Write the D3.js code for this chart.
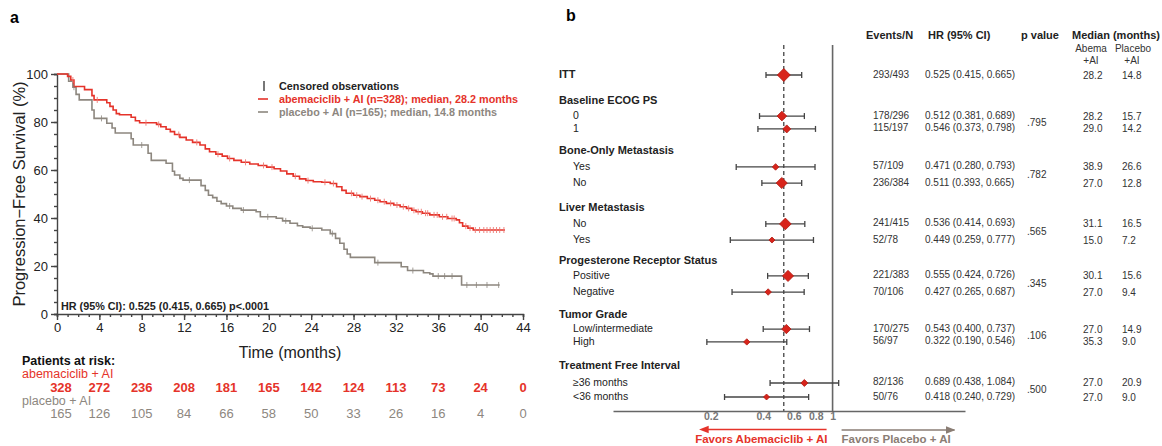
<!DOCTYPE html>
<html><head><meta charset="utf-8">
<script src="https://cdn.jsdelivr.net/npm/d3@7"></script>
<style>
body{margin:0;background:#fff}
svg{display:block;font-family:"Liberation Sans",Arial,Helvetica,sans-serif}
</style>
</head><body>
<svg id="chart" width="1162" height="446"></svg>
<script>
// ---------------- DATA: Kaplan-Meier (panel a) ----------------
const kmTimeTicks = [0,4,8,12,16,20,24,28,32,36,40,44];
const kmSurvTicks = [0,20,40,60,80,100];
const riskTimes = [0,4,8,12,16,20,24,28,32,36,40,44];
const riskAbema = [328,272,236,208,181,165,142,124,113,73,24,0];
const riskPlacebo = [165,126,105,84,66,58,50,33,26,16,4,0];

// step times and survival (%) after each step
const abemaTimes = [0,1.0,1.3,1.6,2.6,3.3,3.5,4.7,5.0,5.3,5.6,5.9,7.0,7.4,7.8,9.4,9.8,10.3,10.7,11.1,11.6,12.2,12.8,13.5,14.0,14.4,15.0,15.6,16.1,16.7,17.4,18.2,19.0,19.8,20.5,21.1,21.7,22.3,22.9,23.5,24.2,25.0,25.8,26.4,26.9,27.3,28.0,28.6,29.3,30.0,30.5,31.1,31.8,32.4,33.0,33.5,33.9,34.5,35.2,36.1,36.9,37.7,38.0,38.3,38.8,39.3];
const abemaSurv  = [100,99,97.5,94.8,93.5,91,89.2,88,86.5,85,83.5,83,82,80.5,79.7,79,78,77,76,74.8,73.6,72.5,71.5,70.4,68.8,67.6,66.6,65.8,64.8,64.0,63.2,62.5,61.9,61.2,60.5,59.6,58.4,57.4,56.3,55.6,55.1,54.9,54.4,53,51.5,50.3,49.5,48.9,48.1,47.4,46.8,46.1,45.4,44.7,44,43.2,42.6,42,41.3,40.5,39.8,39.2,38,36.6,35.8,35];
const abemaEnd = 42.3;
const abemaCensor = [1.5,3.8,8.4,9.6,11.5,13.2,15.2,16.3,17.8,19.5,20.3,22.5,23.7,25.3,26.1,27.8,28.3,28.8,29.6,30.3,30.9,31.5,32.1,32.7,33.2,33.7,34.1,34.4,34.8,35.0,35.6,35.9,36.4,36.8,37.3,37.5,38.6,39.0,39.5,39.9,40.3,40.6,40.9,41.2,41.5,41.8,42.2];

const placeboTimes = [0,1.1,1.5,1.8,2.1,3.3,3.5,4.7,5.2,5.5,7.0,7.2,8.6,8.9,10.3,10.9,11.1,11.6,11.9,13.6,14.0,14.3,14.7,15.1,15.5,16.0,16.6,17.4,18.8,19.2,20.7,21.3,22.0,22.7,23.2,23.9,25.0,25.8,26.3,26.7,27.1,27.4,27.7,30.0,32.5,33.1,34.6,35.2,35.5,38.2];
const placeboSurv  = [100,97,94.5,91.5,89.2,85,81.5,79.5,77.5,75.4,73,70.4,67,64,62.8,59.5,57.9,56.5,55.8,53.5,51.5,49.5,48.5,47,46,45,44,43.3,42.6,40.5,39.9,38.8,37.8,36.8,36.2,35.7,35,33.5,31.5,29.5,27,25,23.6,21.4,19.7,18.1,17.2,16.7,15.8,12.1];
const placeboEnd = 41.8;
const placeboCensor = [1.6,4.2,8.0,12.5,16.3,17.6,19.9,21.6,24.1,26.0,30.3,33.6,36.0,36.6,37.3,38.7,39.6,40.6,41.7];

const legendCensor = "Censored observations";
const legendAbema = "abemaciclib + AI (n=328); median, 28.2 months";
const legendPlacebo = "placebo + AI (n=165); median, 14.8 months";
const hrText = "HR (95% CI): 0.525 (0.415, 0.665) p<.0001";

// ---------------- DATA: Forest plot (panel b) ----------------
const rowLabels = ["ITT","Baseline ECOG PS","0","1","Bone-Only Metastasis","Yes","No","Liver Metastasis","No","Yes","Progesterone Receptor Status","Positive","Negative","Tumor Grade","Low/intermediate","High","Treatment Free Interval","≥36 months","<36 months"];
const rowIsHeader = [1,1,0,0,1,0,0,1,0,0,1,0,0,1,0,0,1,0,0];
const estRows = [0,2,3,5,6,8,9,11,12,14,15,17,18];   // rows carrying an estimate
const hrValues = [0.525,0.512,0.546,0.471,0.511,0.536,0.449,0.555,0.427,0.543,0.322,0.689,0.418];
const hrLower  = [0.415,0.381,0.373,0.280,0.393,0.414,0.259,0.424,0.265,0.400,0.190,0.438,0.240];
const hrUpper  = [0.665,0.689,0.798,0.793,0.665,0.693,0.777,0.726,0.687,0.737,0.546,1.084,0.729];
const eventsN  = ["293/493","178/296","115/197","57/109","236/384","241/415","52/78","221/383","70/106","170/275","56/97","82/136","50/76"];
const groupN   = [493,296,197,109,384,415,78,383,106,275,97,136,76];
const medAbema = ["28.2","28.2","29.0","38.9","27.0","31.1","15.0","30.1","27.0","27.0","35.3","27.0","27.0"];
const medPlacebo = ["14.8","15.7","14.2","26.6","12.8","16.5","7.2","15.6","9.4","14.9","9.0","20.9","9.0"];
const pValues = [".795",".782",".565",".345",".106",".500"];
const pRows = [[2,3],[5,6],[8,9],[11,12],[14,15],[17,18]];
const forestTicks = [0.2,0.4,0.6,0.8,1];
const overallHR = 0.525;

// ---------------- LAYOUT ----------------
const RED = "#e5332a", GRAY = "#8d877f", DARK = "#222";
const rowSlot = [0,1.61,2.55,3.35,4.72,5.71,6.71,8.26,9.25,10.25,11.55,12.48,13.48,14.91,15.78,16.58,18.07,19.13,20];

const svg = d3.select("#chart");

// ======== Panel a ========
const x = d3.scaleLinear().domain([0,44]).range([57,523]);
const y = d3.scaleLinear().domain([0,100]).range([314,74]);

svg.append("text").attr("x",10).attr("y",23).attr("font-size",16).attr("font-weight","bold").text("a");

const yAxisMinor = d3.axisLeft(y).tickValues(d3.range(0,101,5)).tickSize(3).tickFormat("");
const yAxis = d3.axisLeft(y).tickValues(kmSurvTicks).tickSize(6).tickPadding(3);
const xAxisMinor = d3.axisBottom(x).tickValues(d3.range(0,45,1)).tickSize(3).tickFormat("");
const xAxis = d3.axisBottom(x).tickValues(kmTimeTicks).tickSize(6).tickPadding(3);

function styleAxis(g){
  g.selectAll("path,line").attr("stroke","#444").attr("stroke-width",1.4);
  g.selectAll("text").attr("font-size",13).attr("fill",DARK).attr("font-family","Liberation Sans, Arial, sans-serif");
}
svg.append("g").attr("transform",`translate(${x(0)},0)`).call(yAxisMinor).call(styleAxis);
svg.append("g").attr("transform",`translate(${x(0)},0)`).call(yAxis).call(styleAxis).select(".domain").remove();
svg.append("g").attr("transform",`translate(0,${y(0)})`).call(xAxisMinor).call(styleAxis);
svg.append("g").attr("transform",`translate(0,${y(0)})`).call(xAxis).call(styleAxis).select(".domain").remove();

svg.append("text").attr("transform",`translate(19,${(y(0)+y(100))/2}) rotate(-90)`)
  .attr("text-anchor","middle").attr("dy","0.35em").attr("font-size",16.5).attr("fill",DARK)
  .text("Progression\u2212Free Survival (%)");
svg.append("text").attr("x",(x(0)+x(44))/2).attr("y",352).attr("dy","0.35em")
  .attr("text-anchor","middle").attr("font-size",16).attr("fill",DARK).text("Time (months)");

function stepData(times, surv, end){
  const d = times.map((t,i)=>[t,surv[i]]);
  d.push([end, surv[surv.length-1]]);
  return d;
}
function survAt(times, surv, t){
  let s = surv[0];
  for(let i=0;i<times.length;i++){ if(times[i]<=t) s = surv[i]; }
  return s;
}
const line = d3.line().x(d=>x(d[0])).y(d=>y(d[1])).curve(d3.curveStepAfter);
svg.append("path").datum(stepData(placeboTimes,placeboSurv,placeboEnd))
  .attr("d",line).attr("fill","none").attr("stroke",GRAY).attr("stroke-width",1.6);
svg.append("path").datum(stepData(abemaTimes,abemaSurv,abemaEnd))
  .attr("d",line).attr("fill","none").attr("stroke",RED).attr("stroke-width",1.6);

svg.append("g").selectAll("line").data(placeboCensor).join("line")
  .attr("x1",d=>x(d)).attr("x2",d=>x(d))
  .attr("y1",d=>y(survAt(placeboTimes,placeboSurv,d))-3)
  .attr("y2",d=>y(survAt(placeboTimes,placeboSurv,d))+3)
  .attr("stroke",GRAY).attr("stroke-width",1).attr("opacity",0.8);
svg.append("g").selectAll("line").data(abemaCensor).join("line")
  .attr("x1",d=>x(d)).attr("x2",d=>x(d))
  .attr("y1",d=>y(survAt(abemaTimes,abemaSurv,d))-3)
  .attr("y2",d=>y(survAt(abemaTimes,abemaSurv,d))+3)
  .attr("stroke","#ee7a74").attr("stroke-width",1).attr("opacity",0.9);

// legend
const lg = svg.append("g").attr("font-size",10.8).attr("font-weight","bold");
lg.append("line").attr("x1",264).attr("x2",264).attr("y1",81).attr("y2",91).attr("stroke","#555").attr("stroke-width",1.6);
lg.append("text").attr("x",279).attr("y",86).attr("dy","0.35em").attr("fill",DARK).text(legendCensor);
lg.append("line").attr("x1",258).attr("x2",268).attr("y1",99).attr("y2",99).attr("stroke",RED).attr("stroke-width",1.6);
lg.append("text").attr("x",279).attr("y",99).attr("dy","0.35em").attr("fill",RED).text(legendAbema);
lg.append("line").attr("x1",258).attr("x2",268).attr("y1",112).attr("y2",112).attr("stroke",GRAY).attr("stroke-width",1.6);
lg.append("text").attr("x",279).attr("y",112).attr("dy","0.35em").attr("fill",GRAY).text(legendPlacebo);

svg.append("text").attr("x",61).attr("y",306).attr("dy","0.35em").attr("font-size",10.8)
  .attr("font-weight","bold").attr("fill",DARK).text(hrText);

// patients at risk
svg.append("text").attr("x",22).attr("y",361).attr("dy","0.35em").attr("font-size",12.5).attr("font-weight","bold").attr("fill","#111").text("Patients at risk:");
svg.append("text").attr("x",22).attr("y",374).attr("dy","0.35em").attr("font-size",12.5).attr("fill",RED).text("abemaciclib + AI");
svg.append("text").attr("x",22).attr("y",400.5).attr("dy","0.35em").attr("font-size",12.5).attr("fill",GRAY).text("placebo + AI");
svg.append("g").selectAll("text").data(riskAbema).join("text")
  .attr("x",(d,i)=>x(riskTimes[i])+(i===0?4:0)).attr("y",387.5).attr("dy","0.35em").attr("text-anchor","middle")
  .attr("font-size",13).attr("font-weight","bold").attr("fill",RED).text(d=>d);
svg.append("g").selectAll("text").data(riskPlacebo).join("text")
  .attr("x",(d,i)=>x(riskTimes[i])+(i===0?4:0)).attr("y",413).attr("dy","0.35em").attr("text-anchor","middle")
  .attr("font-size",13).attr("fill",GRAY).text(d=>d);

// ======== Panel b ========
svg.append("text").attr("x",566).attr("y",21).attr("font-size",16).attr("font-weight","bold").text("b");

const xF = d3.scaleLog().domain([0.055,5.75]).range([613,965]);
const yF = d3.scaleLinear().domain([0,20]).range([74,396]);
const axisY = 411, topY = 45;

svg.append("line").attr("x1",xF(1)).attr("x2",xF(1)).attr("y1",topY).attr("y2",axisY)
  .attr("stroke","#666").attr("stroke-width",1.6);
svg.append("line").attr("x1",xF(overallHR)).attr("x2",xF(overallHR)).attr("y1",topY).attr("y2",axisY)
  .attr("stroke","#333").attr("stroke-width",1.2).attr("stroke-dasharray","4,3");

const fAxis = d3.axisBottom(xF).tickValues(forestTicks).tickFormat(d=>d).tickSize(0).tickPadding(2);
const fg = svg.append("g").attr("transform",`translate(0,${axisY})`).call(fAxis);
fg.select(".domain").attr("stroke","#666").attr("stroke-width",1.6);
fg.selectAll("text").attr("font-size",10.5).attr("font-weight","bold").attr("fill","#777").attr("font-family","Liberation Sans, Arial, sans-serif");

svg.append("g").selectAll("text").data(rowLabels).join("text")
  .attr("x",(d,i)=>rowIsHeader[i]?559:573).attr("y",(d,i)=>yF(rowSlot[i])).attr("dy","0.35em")
  .attr("font-size",(d,i)=>rowIsHeader[i]?11:10.5)
  .attr("font-weight",(d,i)=>rowIsHeader[i]?"bold":"normal")
  .attr("fill",DARK).text(d=>d);

const sizeScale = d3.scaleLinear().domain([76,493]).range([3,6.5]);
const est = hrValues.map((v,i)=>({hr:v, lo:hrLower[i], hi:hrUpper[i], row:estRows[i], n:groupN[i]}));
const eg = svg.append("g");
eg.selectAll("line.ci").data(est).join("line").attr("class","ci")
  .attr("x1",d=>xF(d.lo)).attr("x2",d=>xF(d.hi)).attr("y1",d=>yF(rowSlot[d.row])+1).attr("y2",d=>yF(rowSlot[d.row])+1)
  .attr("stroke","#444").attr("stroke-width",1.3);
eg.selectAll("line.capl").data(est).join("line").attr("class","capl")
  .attr("x1",d=>xF(d.lo)).attr("x2",d=>xF(d.lo)).attr("y1",d=>yF(rowSlot[d.row])-2).attr("y2",d=>yF(rowSlot[d.row])+4)
  .attr("stroke","#444").attr("stroke-width",1.3);
eg.selectAll("line.capr").data(est).join("line").attr("class","capr")
  .attr("x1",d=>xF(d.hi)).attr("x2",d=>xF(d.hi)).attr("y1",d=>yF(rowSlot[d.row])-2).attr("y2",d=>yF(rowSlot[d.row])+4)
  .attr("stroke","#444").attr("stroke-width",1.3);
eg.selectAll("path.dm").data(est).join("path").attr("class","dm")
  .attr("d",d=>{const r=sizeScale(d.n), cx=xF(d.hr), cy=yF(rowSlot[d.row])+1;
     return `M${cx-r},${cy}L${cx},${cy-r}L${cx+r},${cy}L${cx},${cy+r}Z`;})
  .attr("fill","#d8241b").attr("stroke","#b01a12").attr("stroke-width",0.8);

const hg = svg.append("g").attr("font-size",11).attr("font-weight","bold").attr("fill",DARK);
hg.append("text").attr("x",866).attr("y",35).attr("dy","0.35em").text("Events/N");
hg.append("text").attr("x",928).attr("y",35).attr("dy","0.35em").text("HR (95% CI)");
hg.append("text").attr("x",1021).attr("y",35).attr("dy","0.35em").text("p value");
hg.append("text").attr("x",1072).attr("y",35).attr("dy","0.35em").text("Median (months)");
const sg = svg.append("g").attr("font-size",10).attr("fill","#333").attr("text-anchor","middle");
sg.append("text").attr("x",1091).attr("y",48).attr("dy","0.35em").text("Abema");
sg.append("text").attr("x",1091).attr("y",60).attr("dy","0.35em").text("+AI");
sg.append("text").attr("x",1133).attr("y",48).attr("dy","0.35em").text("Placebo");
sg.append("text").attr("x",1132).attr("y",60).attr("dy","0.35em").text("+AI");

const tg = svg.append("g").attr("font-size",10).attr("fill","#333");
tg.selectAll("text.ev").data(eventsN).join("text").attr("class","ev")
  .attr("x",873).attr("y",(d,i)=>yF(rowSlot[estRows[i]])).attr("dy","0.35em").text(d=>d);
tg.selectAll("text.hr").data(est).join("text").attr("class","hr")
  .attr("x",925).attr("y",d=>yF(rowSlot[d.row])).attr("dy","0.35em")
  .text(d=>`${d.hr.toFixed(3)} (${d.lo.toFixed(3)}, ${d.hi.toFixed(3)})`);
tg.selectAll("text.ma").data(medAbema).join("text").attr("class","ma")
  .attr("x",1083).attr("y",(d,i)=>yF(rowSlot[estRows[i]])+1).attr("dy","0.35em").text(d=>d);
tg.selectAll("text.mp").data(medPlacebo).join("text").attr("class","mp")
  .attr("x",1122).attr("y",(d,i)=>yF(rowSlot[estRows[i]])+1).attr("dy","0.35em").text(d=>d);
tg.selectAll("text.pv").data(pValues).join("text").attr("class","pv")
  .attr("x",1027).attr("y",(d,i)=>(yF(rowSlot[pRows[i][0]])+yF(rowSlot[pRows[i][1]]))/2+1).attr("dy","0.35em").text(d=>d);

const defs = svg.append("defs");
defs.append("marker").attr("id","ahR").attr("viewBox","0 0 10 10").attr("refX",1).attr("refY",5)
  .attr("markerWidth",6).attr("markerHeight",6).attr("orient","auto-start-reverse")
  .append("path").attr("d","M0,1L10,5L0,9Z").attr("fill",RED);
defs.append("marker").attr("id","ahG").attr("viewBox","0 0 10 10").attr("refX",9).attr("refY",5)
  .attr("markerWidth",6).attr("markerHeight",6).attr("orient","auto")
  .append("path").attr("d","M0,1L10,5L0,9Z").attr("fill","#8a7d74");
svg.append("line").attr("x1",xF(0.2)-3).attr("x2",xF(1)-6).attr("y1",429.5).attr("y2",429.5)
  .attr("stroke",RED).attr("stroke-width",1.6).attr("marker-start","url(#ahR)");
svg.append("line").attr("x1",xF(1)+9).attr("x2",xF(5.0)).attr("y1",430).attr("y2",430)
  .attr("stroke","#8a7d74").attr("stroke-width",1.6).attr("marker-end","url(#ahG)");
svg.append("text").attr("x",xF(1)-5).attr("y",439).attr("dy","0.35em").attr("text-anchor","end")
  .attr("font-size",11.5).attr("font-weight","bold").attr("fill",RED).text("Favors Abemaciclib + AI");
svg.append("text").attr("x",xF(1)+9).attr("y",439).attr("dy","0.35em")
  .attr("font-size",11.5).attr("font-weight","bold").attr("fill","#8a7d74").text("Favors Placebo + AI");
</script>
</body></html>
